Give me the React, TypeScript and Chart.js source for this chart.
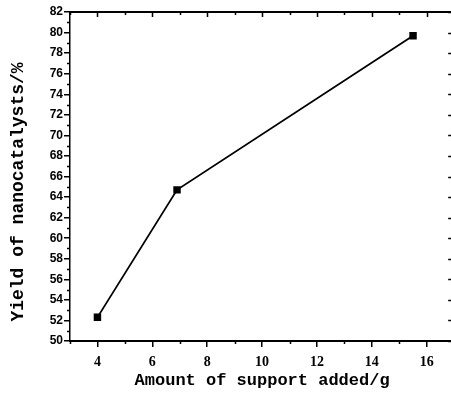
import React, { useEffect, useRef } from "react";
import { Chart, registerables } from "chart.js";

Chart.register(...registerables);

const supportAmounts = [4, 6.9, 15.5];
const yieldValues = [52.3, 64.7, 79.7];
const xTickValues = [4, 6, 8, 10, 12, 14, 16];
const yTickValues = [50, 52, 54, 56, 58, 60, 62, 64, 66, 68, 70, 72, 74, 76, 78, 80, 82];
const xMinorTicks = [3, 5, 7, 9, 11, 13, 15, 17];
const yMinorTicks = [51, 53, 55, 57, 59, 61, 63, 65, 67, 69, 71, 73, 75, 77, 79, 81];
const xTitle = "Amount of support added/g";
const yTitle = "Yield of nanocatalysts/%";

const framePlugin = {
  id: "frame",
  afterDraw(chart: any) {
    const { ctx, chartArea, scales } = chart;
    const { left, right, top, bottom } = chartArea;
    const xs = scales.x;
    const ys = scales.y;
    ctx.save();
    ctx.strokeStyle = "#000";
    ctx.lineWidth = 2;
    ctx.beginPath();
    ctx.moveTo(left, top);
    ctx.lineTo(right, top);
    ctx.moveTo(right, top);
    ctx.lineTo(right, bottom);
    ctx.stroke();
    ctx.lineWidth = 1.5;
    ctx.beginPath();
    yMinorTicks.forEach((v) => {
      const y = Math.round(ys.getPixelForValue(v)) + 0.5;
      ctx.moveTo(left - 3, y);
      ctx.lineTo(left, y);
    });
    xMinorTicks.forEach((v) => {
      const x = Math.round(xs.getPixelForValue(v)) + 0.5;
      ctx.moveTo(x, bottom);
      ctx.lineTo(x, bottom + 3);
    });
    xTickValues.forEach((v) => {
      const x = Math.round(xs.getPixelForValue(v)) + 0.5;
      ctx.moveTo(x, top);
      ctx.lineTo(x, top + 5);
    });
    xMinorTicks.forEach((v) => {
      const x = Math.round(xs.getPixelForValue(v)) + 0.5;
      ctx.moveTo(x, top);
      ctx.lineTo(x, top + 3);
    });
    yTickValues.forEach((v) => {
      const y = Math.round(ys.getPixelForValue(v)) + 0.5;
      ctx.moveTo(right, y);
      ctx.lineTo(right - 6, y);
    });
    yMinorTicks.forEach((v) => {
      const y = Math.round(ys.getPixelForValue(v)) + 0.5;
      ctx.moveTo(right, y);
      ctx.lineTo(right - 3, y);
    });
    ctx.stroke();
    ctx.fillStyle = "#000";
    ctx.font = "bold 18px 'Liberation Mono', monospace";
    ctx.textAlign = "center";
    ctx.textBaseline = "middle";
    ctx.translate(18, 192);
    ctx.rotate(-Math.PI / 2);
    ctx.fillText(yTitle, 0, 0);
    ctx.restore();
  },
};

export default function App() {
  const ref = useRef<HTMLCanvasElement>(null);
  useEffect(() => {
    if (!ref.current) return;
    const chart = new Chart(ref.current, {
      type: "line",
      data: {
        datasets: [
          {
            data: supportAmounts.map((x, i) => ({ x, y: yieldValues[i] })),
            borderColor: "#000",
            backgroundColor: "#000",
            borderWidth: 1.8,
            pointStyle: "rect",
            pointRadius: 4,
            pointHoverRadius: 4,
            tension: 0,
          },
        ],
      },
      options: {
        responsive: false,
        animation: false,
        devicePixelRatio: 1,
        layout: { padding: { top: 12, left: 0, right: 4, bottom: 0 } },
        plugins: { legend: { display: false }, tooltip: { enabled: false } },
        scales: {
          x: {
            type: "linear",
            min: 3,
            max: 17,
            afterBuildTicks: (s: any) => {
              s.ticks = xTickValues.map((v) => ({ value: v }));
            },
            afterFit: (s: any) => {
              s.height = 59;
            },
            grid: {
              drawOnChartArea: false,
              drawTicks: true,
              tickLength: 6,
              color: "#000",
              lineWidth: 1.5,
            },
            border: { display: true, color: "#000", width: 2 },
            ticks: {
              color: "#000",
              padding: 7,
              maxRotation: 0,
              font: { family: "'Liberation Serif', serif", size: 14, weight: "bold" },
            },
            title: {
              display: true,
              text: xTitle,
              color: "#000",
              font: { family: "'Liberation Mono', monospace", size: 17, weight: "bold" },
              padding: { top: 0, bottom: 9 },
            },
          },
          y: {
            type: "linear",
            min: 50,
            max: 82,
            afterBuildTicks: (s: any) => {
              s.ticks = yTickValues.map((v) => ({ value: v }));
            },
            afterFit: (s: any) => {
              s.width = 70;
            },
            grid: {
              drawOnChartArea: false,
              drawTicks: true,
              tickLength: 6,
              color: "#000",
              lineWidth: 1.5,
            },
            border: { display: true, color: "#000", width: 1.5 },
            ticks: {
              color: "#000",
              padding: 1,
              font: { family: "'Liberation Sans', sans-serif", size: 12, weight: "bold" },
            },
          },
        },
      },
      plugins: [framePlugin],
    });
    return () => chart.destroy();
  }, []);
  return (
    <div
      style={{
        position: "fixed",
        left: 0,
        top: 0,
        width: 451,
        height: 400,
        overflow: "hidden",
        background: "#fff",
      }}
    >
      <canvas ref={ref} width={460} height={400} style={{ width: 460, height: 400, display: "block" }} />
    </div>
  );
}
